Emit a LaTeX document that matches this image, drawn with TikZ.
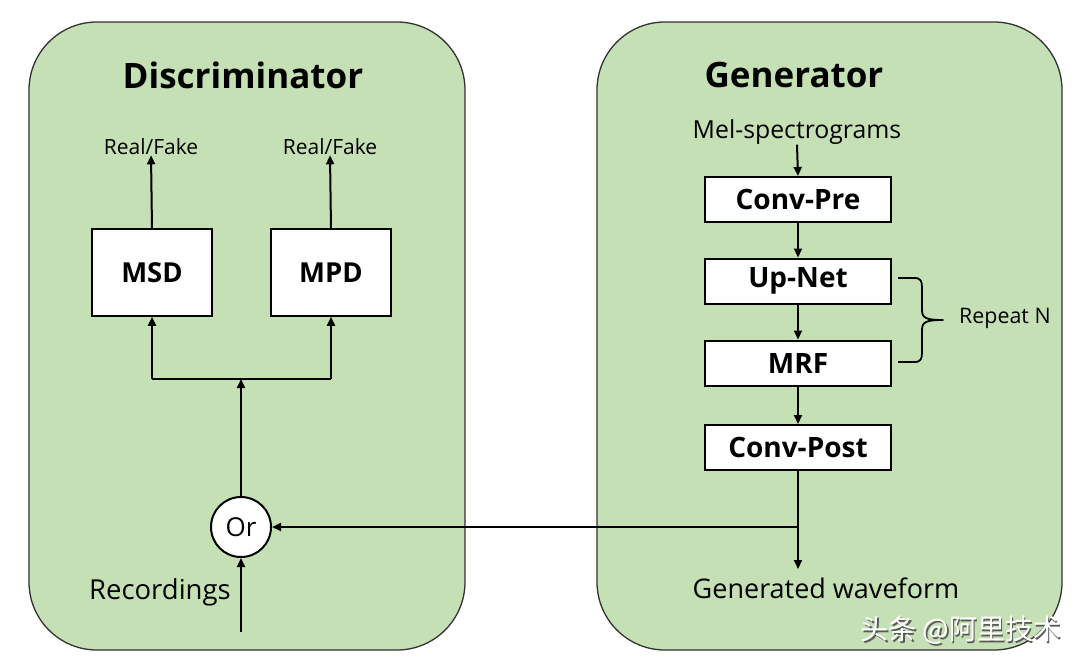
\documentclass[tikz,border=0pt]{standalone}
\usepackage{fontspec}
\setmainfont{Open Sans}
\newfontfamily\cjk{Noto Sans CJK SC}
\usetikzlibrary{arrows.meta}
\definecolor{panelgreen}{HTML}{C5E0B4}
\tikzset{
  panel/.style={draw=black!80, line width=1.3pt, fill=panelgreen, rounded corners=68pt, minimum width=436pt, minimum height=628pt, inner sep=0pt},
  title/.style={font=\bfseries\fontsize{35}{40}\selectfont, inner sep=0pt},
  lbl/.style={font=\fontsize{21}{24}\selectfont, inner sep=0pt},
  dbox/.style={draw=black, line width=1.5pt, fill=white, minimum width=120pt, minimum height=87pt, inner sep=0pt, font=\bfseries\fontsize{27.5}{32}\selectfont},
  gbox/.style={draw=black, line width=2pt, fill=white, minimum width=186pt, minimum height=45pt, inner sep=0pt, font=\bfseries\fontsize{28}{32}\selectfont},
  conn/.style={line width=2pt, draw=black},
  arr/.style={conn, -{Triangle[length=9pt,width=8pt]}},
}
\begin{document}
\begin{tikzpicture}[x=1pt,y=-1pt]
\useasboundingbox[fill=white] (0,0) rectangle (1080,665);
% panels
\node[panel] (dpanel) at (247,336) {};
\node[panel, minimum width=465pt] (gpanel) at (829.5,336) {};
\node[title] (dtitle) at (243,75) {Discriminator};
\node[title] (gtitle) at (794,75) {Generator};
% discriminator
\node[dbox] (msd) at (152,272.5) {MSD};
\node[dbox] (mpd) at (331,272.5) {MPD};
\node[lbl] (rf1) at (151,147) {Real/Fake};
\node[lbl] (rf2) at (330,147) {Real/Fake};
\node[circle, draw=black, line width=2pt, fill=white, minimum size=60pt, inner sep=0pt, font=\fontsize{26}{30}\selectfont] (or) at (241,527) {Or};
\node[lbl, font=\fontsize{27.5}{32}\selectfont, anchor=east] (rec) at (231,592) {Recordings};
\coordinate (recin) at (241,632);
\coordinate (bl) at (152,379);
\coordinate (br) at (331,379);
\coordinate (bus) at (241,379);
\draw[arr] (msd.north) -- (rf1.south);
\draw[arr] (mpd.north) -- (rf2.south);
\draw[conn] (bl) -- (br);
\draw[arr] (bl) -- (msd.south);
\draw[arr] (br) -- (mpd.south);
\draw[arr] (or.north) -- (bus);
\draw[arr] (recin) -- (or.south);
% generator
\node[lbl, font=\fontsize{24.8}{28}\selectfont] (mel) at (797,132) {Mel-spectrograms};
\node[gbox] (convpre) at (798,199.5) {Conv-Pre};
\node[gbox] (upnet) at (798,281) {Up-Net};
\node[gbox] (mrf) at (798,363) {MRF};
\node[gbox] (convpost) at (798,447.5) {Conv-Post};
\node[lbl, font=\fontsize{27}{32}\selectfont] (gw) at (826,588) {Generated waveform};
\node[lbl, font=\fontsize{21.4}{24}\selectfont, anchor=west] (rep) at (959,318) {Repeat N};
\coordinate (split) at (798,527);
\coordinate (gwtip) at (798,569);
\draw[arr] (mel.south) -- (convpre.north);
\draw[arr] (convpre) -- (upnet);
\draw[arr] (upnet) -- (mrf);
\draw[arr] (mrf) -- (convpost);
\draw[conn] (convpost.south) -- (split);
\draw[arr] (split) -- (gwtip);
\draw[arr] (split) -- (or.east);
% brace
\coordinate (btop) at (898,278);
\coordinate (bbot) at (898,362);
\coordinate (btip) at (943,320);
\draw[line width=1.8pt, line join=round] (btop) -- (914,278) .. controls (921,278) and (922,281) .. (922,288)
  -- (922,310) .. controls (922,318) and (926,320) .. (btip)
  .. controls (926,320) and (922,322) .. (922,330) -- (922,352)
  .. controls (922,359) and (921,362) .. (914,362) -- (bbot);
% watermark
\node[font=\cjk\fontsize{28}{32}\selectfont, text=black!65, inner sep=0pt] (wmshadow) at (962.5,632) {头条 @阿里技术};
\node[font=\cjk\fontsize{28}{32}\selectfont, text=white, inner sep=0pt] (wm) at (961,630.5) {头条 @阿里技术};
\end{tikzpicture}
\end{document}
